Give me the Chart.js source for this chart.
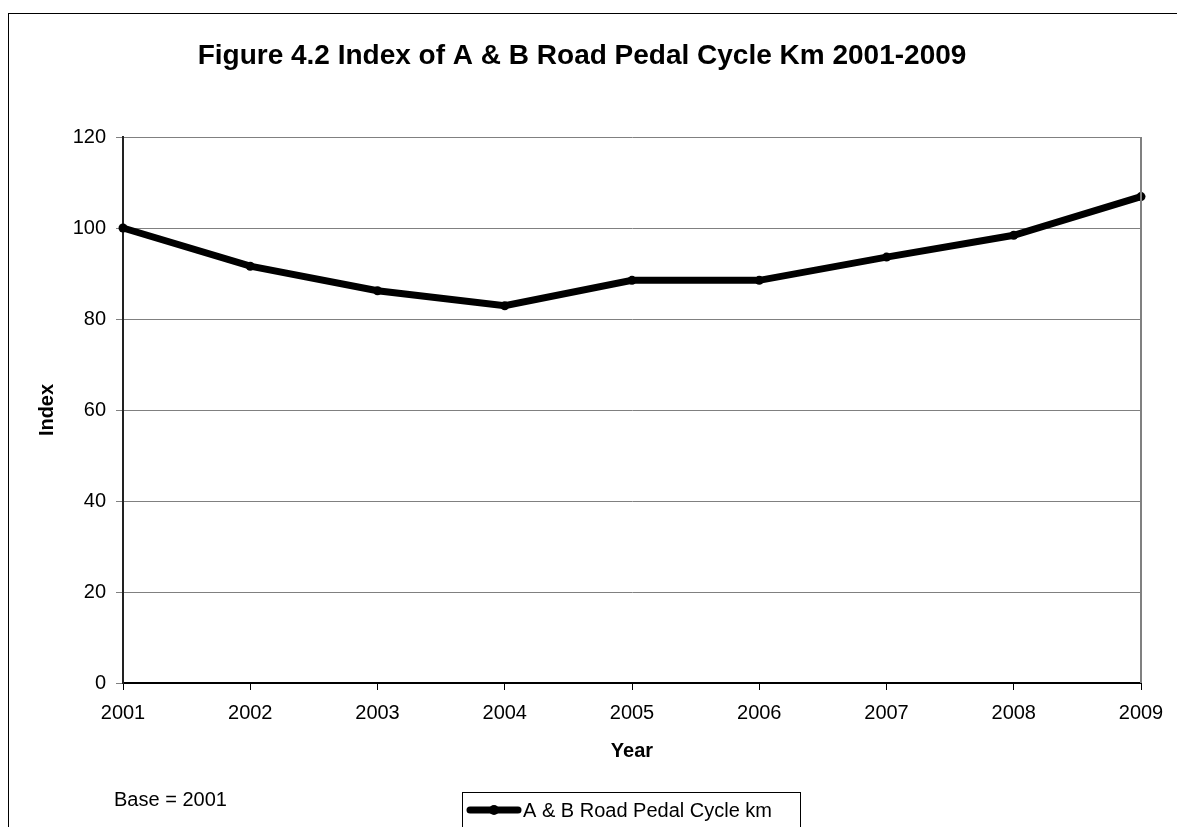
<!DOCTYPE html>
<html lang="en">
<head>
    <meta charset="UTF-8">
    <title>Figure 4.2 Index of A &amp; B Road Pedal Cycle Km 2001-2009</title>
    <script src="https://cdn.jsdelivr.net/npm/chart.js"></script>
    <style>
        body {
            margin: 0;
            padding: 0;
            background-color: #ffffff;
        }

        canvas {
            display: block;
        }
    </style>
</head>
<body>
    <canvas id="cycleChart" width="1177" height="827"></canvas>

    <script>
        // Data
        const years = ['2001', '2002', '2003', '2004', '2005', '2006', '2007', '2008', '2009'];
        const cycleIndex = [100, 91.6, 86.2, 82.9, 88.5, 88.5, 93.6, 98.4, 106.9];
        const yTicks = [0, 20, 40, 60, 80, 100, 120];

        const titleText = 'Figure 4.2 Index of A & B Road Pedal Cycle Km 2001-2009';
        const baseNote = 'Base = 2001';
        const fontName = '"Liberation Sans", Arial, sans-serif';

        // frame, title, note and boxed legend drawn like the spreadsheet original
        const extrasPlugin = {
            id: 'extras',
            afterDraw(chart) {
                const c = chart.ctx;
                const area = chart.chartArea;
                c.save();

                // outer chart border
                c.strokeStyle = '#000';
                c.lineWidth = 1;
                c.strokeRect(8.5, 13.5, chart.width + 20, chart.height + 20);

                // right side of the plot frame
                c.strokeStyle = '#808080';
                c.lineWidth = 2;
                c.beginPath();
                c.moveTo(area.right, area.top);
                c.lineTo(area.right, area.bottom);
                c.stroke();

                // title
                c.fillStyle = '#000';
                c.font = 'bold 28px ' + fontName;
                c.textAlign = 'center';
                c.textBaseline = 'middle';
                c.fillText(titleText, 582, 56);

                // base note
                c.font = '20px ' + fontName;
                c.textAlign = 'left';
                c.fillText(baseNote, 114, 800);

                // legend
                const ds = chart.data.datasets[0];
                c.strokeStyle = '#000';
                c.lineWidth = 1;
                c.strokeRect(462.5, 792.5, 338, 50);
                c.strokeStyle = ds.borderColor;
                c.lineWidth = 7;
                c.lineCap = 'round';
                c.beginPath();
                c.moveTo(470, 810);
                c.lineTo(518, 810);
                c.stroke();
                c.fillStyle = ds.borderColor;
                c.beginPath();
                c.arc(494, 810, 5, 0, Math.PI * 2);
                c.fill();
                c.fillText(ds.label, 523, 811);

                c.restore();
            }
        };

        const ctx = document.getElementById('cycleChart').getContext('2d');
        const cycleChart = new Chart(ctx, {
            type: 'line',
            data: {
                labels: years,
                datasets: [{
                    label: 'A & B Road Pedal Cycle km',
                    data: cycleIndex,
                    borderColor: '#000000',
                    backgroundColor: '#000000',
                    borderWidth: 7,
                    pointRadius: 4.5,
                    pointBackgroundColor: '#000000',
                    pointBorderWidth: 0,
                    tension: 0,
                    clip: false
                }]
            },
            options: {
                responsive: false,
                animation: false,
                layout: {
                    padding: { left: 0, right: 36, top: 137, bottom: 59 }
                },
                plugins: {
                    legend: { display: false },
                    title: { display: false },
                    tooltip: { enabled: false }
                },
                scales: {
                    x: {
                        type: 'category',
                        offset: false,
                        grid: {
                            drawOnChartArea: false,
                            drawTicks: true,
                            tickLength: 7,
                            color: '#000'
                        },
                        border: { color: '#000', width: 2 },
                        ticks: {
                            color: '#000',
                            font: { family: fontName, size: 20 },
                            maxRotation: 0,
                            autoSkip: false,
                            padding: 11
                        },
                        title: {
                            display: true,
                            text: 'Year',
                            color: '#000',
                            font: { family: fontName, size: 20, weight: 'bold' },
                            padding: { top: 0, bottom: 5 }
                        },
                        afterFit(scale) {
                            scale.height = 85;
                        }
                    },
                    y: {
                        min: yTicks[0],
                        max: yTicks[yTicks.length - 1],
                        afterBuildTicks(scale) {
                            scale.ticks = yTicks.map(v => ({ value: v }));
                        },
                        grid: {
                            color: '#808080',
                            lineWidth: 1,
                            tickLength: 7
                        },
                        border: { color: '#222', width: 2 },
                        ticks: {
                            color: '#000',
                            font: { family: fontName, size: 20 },
                            padding: 10
                        },
                        title: {
                            display: true,
                            text: 'Index',
                            color: '#000',
                            font: { family: fontName, size: 20, weight: 'bold' },
                            padding: { top: 35, bottom: 0 }
                        },
                        afterFit(scale) {
                            scale.width = 123;
                        }
                    }
                }
            },
            plugins: [extrasPlugin]
        });
    </script>
</body>
</html>
